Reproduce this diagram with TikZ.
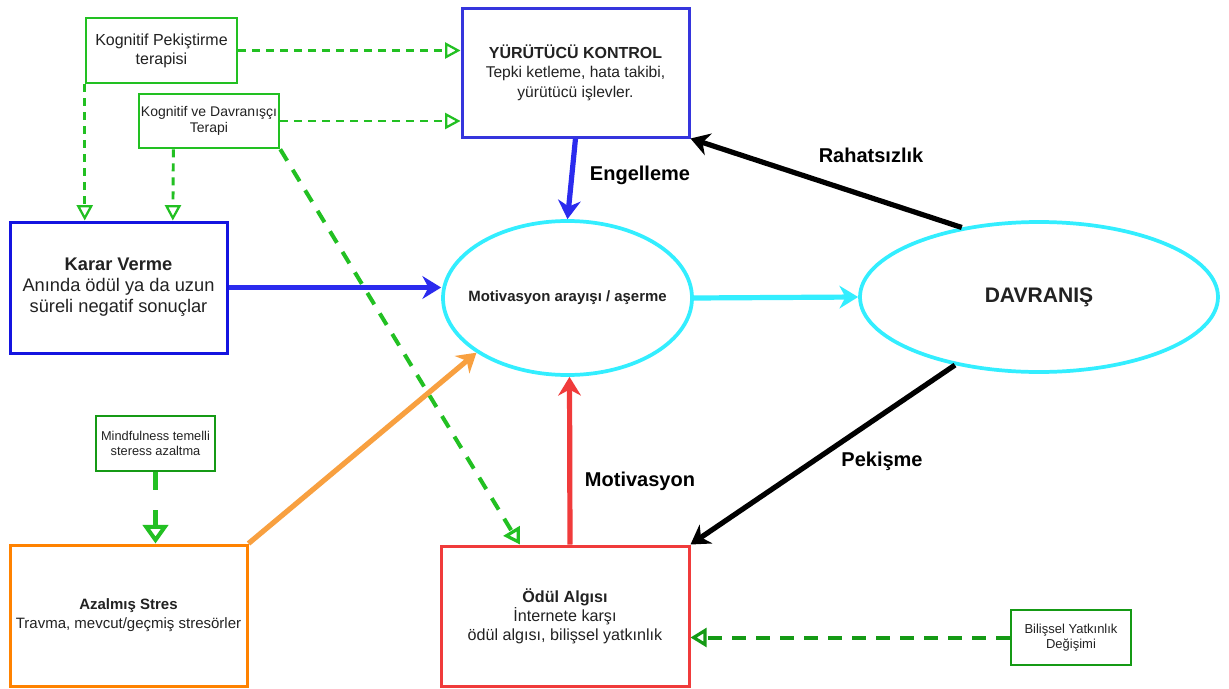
\documentclass[tikz,border=0pt]{standalone}
\usepackage{fontspec}
\setmainfont{Liberation Sans}
\usetikzlibrary{arrows.meta,shapes.geometric,calc}
\definecolor{kblue}{HTML}{1414E0}
\definecolor{yblue}{HTML}{3535DD}
\definecolor{ablue}{HTML}{2B2BEE}
\definecolor{mcyan}{HTML}{33EEFF}
\definecolor{ored}{HTML}{F03B3B}
\definecolor{obox}{HTML}{FF8200}
\definecolor{oarrow}{HTML}{F8A040}
\definecolor{lgreen}{HTML}{22C022}
\definecolor{dgreen}{HTML}{159A15}
\definecolor{txt}{HTML}{222222}
\begin{document}
\begin{tikzpicture}[x=0.75pt,y=-0.75pt,
  box/.style={draw, rectangle, inner sep=0pt, align=center, text=txt, line width=2.25pt},
  gbox/.style={box, line width=1.9pt},
  ell/.style={draw=mcyan, ellipse, inner sep=0pt, line width=2.8pt},
  elltext/.style={text=txt, inner sep=0pt},
  solidarrow/.style={line width=3.9pt, -{Stealth[length=14pt,width=17pt,inset=4.5pt]}},
  thindash/.style={draw=lgreen, line width=1.6pt, dash pattern=on 6pt off 4.5pt, -{Triangle[open,length=11.5pt,width=12pt,line width=1.7pt]}},
  thickdash/.style={line width=3pt, dash pattern=on 10pt off 8pt, -{Triangle[open,length=12pt,width=14pt,line width=2.4pt]}},
  lbl/.style={font=\fontsize{15pt}{17pt}\selectfont\bfseries, text=black, inner sep=0pt}
]
\useasboundingbox (0,0) rectangle (1229,689);
\fill[white] (0,0) rectangle (1229,689);

% nodes
\node[gbox, draw=lgreen, minimum width=113.25pt, minimum height=48.75pt,
  font=\fontsize{12pt}{14.25pt}\selectfont] (kpt) at (161.5,50.5) {Kognitif Pekiştirme\\terapisi};
\node[gbox, draw=lgreen, minimum width=105pt, minimum height=40.5pt,
  font=\fontsize{10.5pt}{12pt}\selectfont] (kvd) at (209,121) {Kognitif ve Davranışçı\\Terapi};
\node[box, draw=yblue, minimum width=170.25pt, minimum height=96.75pt,
  font=\fontsize{11.7pt}{14.6pt}\selectfont] (yk) at (575.5,72.5) {{\fontsize{12pt}{14.6pt}\selectfont\textbf{YÜRÜTÜCÜ KONTROL}}\\Tepki ketleme, hata takibi,\\yürütücü işlevler.};
\node[box, draw=kblue, minimum width=162.75pt, minimum height=98.25pt,
  font=\fontsize{13.7pt}{15.75pt}\selectfont] (karar) at (118.5,287.5) {\textbf{Karar Verme}\\Anında ödül ya da uzun\\süreli negatif sonuçlar};
\node[ell, minimum width=186.75pt, minimum height=115.5pt] (mot) at (567.5,298) {};
\node[elltext, font=\fontsize{11.2pt}{13pt}\selectfont\bfseries] (mottext) at (mot.center) {Motivasyon arayışı / aşerme};
\node[ell, minimum width=268.5pt, minimum height=112.5pt] (davr) at (1039,297) {};
\node[elltext, font=\fontsize{15.8pt}{18pt}\selectfont\bfseries] (davrtext) at (davr.center) {DAVRANIŞ};
\node[gbox, draw=dgreen, minimum width=89.25pt, minimum height=41.25pt,
  font=\fontsize{9.6pt}{11.25pt}\selectfont] (mind) at (155.5,443.5) {Mindfulness temelli\\steress azaltma};
\node[box, draw=obox, minimum width=177.75pt, minimum height=105.75pt,
  font=\fontsize{11.25pt}{14.25pt}\selectfont] (stres) at (128.5,615.5) {\textbf{Azalmış Stres}\\Travma, mevcut/geçmiş stresörler};
\node[box, draw=ored, minimum width=186pt, minimum height=105pt,
  font=\fontsize{12.1pt}{14.25pt}\selectfont] (odul) at (565,616) {\textbf{Ödül Algısı}\\İnternete karşı\\ödül algısı, bilişsel yatkınlık};
\node[gbox, draw=dgreen, minimum width=90pt, minimum height=41.25pt,
  font=\fontsize{9.75pt}{11.25pt}\selectfont] (bil) at (1071,637.5) {Bilişsel Yatkınlık\\Değişimi};

% labels
\node[lbl] (leng) at (640,175) {Engelleme};
\node[lbl] (lrah) at (871,155) {Rahatsızlık};
\node[lbl] (lpek) at (882,461) {Pekişme};
\node[lbl] (lmot) at (640,481) {Motivasyon};

% solid connectors
\draw[solidarrow, draw=ablue] (yk.south) -- (mot.north);
\draw[solidarrow, draw=ablue] (karar.east) -- (karar.east -| mot.west);
\draw[solidarrow, draw=mcyan] (mot.east) -- (davr.west);
\draw[solidarrow, draw=black] (davr.138) -- (yk.south east);
\draw[solidarrow, draw=black] (davr.219) -- (odul.north east);
\draw[solidarrow, draw=ored] ($(odul.north)+(5,0)$) -- ($(mot.south)+(2,0)$);
\draw[solidarrow, draw=oarrow] (stres.north east) -- (mot.211);

% dashed connectors
\draw[thindash] (kpt.east) -- (kpt.east -| yk.west);
\draw[thindash] (kvd.east) -- (kvd.east -| yk.west);
\draw[thindash, line width=2.2pt] (kpt.south west) -- (kpt.south west |- karar.north);
\draw[thindash, line width=2.2pt] ($(kvd.south west)!0.25!(kvd.south east)$) -- ($(karar.north west)!0.747!(karar.north east)$);
\draw[thickdash, draw=lgreen] (kvd.south east) -- ($(odul.north west)!0.32!(odul.north east)$);
\draw[draw=lgreen, line width=3.8pt, dash pattern=on 13.5pt off 15pt, -{Triangle[open,length=14pt,width=19pt,line width=3pt]}] (mind.south) -- (mind.south |- stres.north);
\draw[thickdash, draw=dgreen] (bil.west) -- (bil.west -| odul.east);
\end{tikzpicture}
\end{document}
